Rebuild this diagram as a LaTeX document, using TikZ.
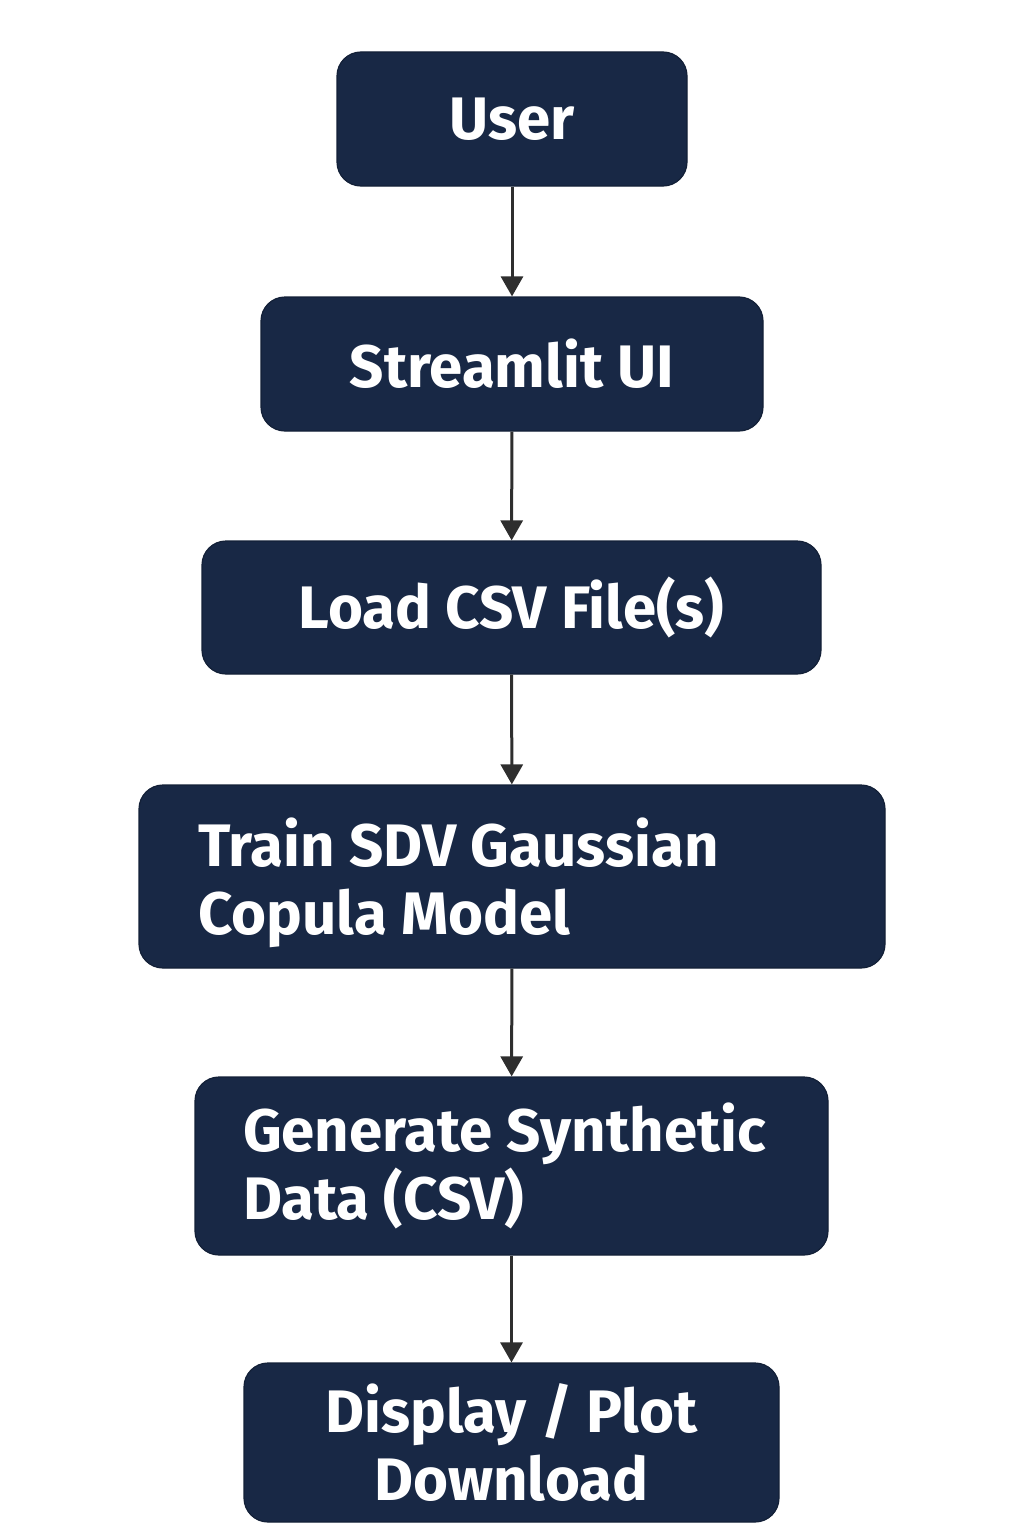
\documentclass[tikz,border=0pt]{standalone}
\usepackage{fontspec}
\setmainfont{Fira Sans}
\usetikzlibrary{arrows.meta}
\hyphenpenalty=10000
\definecolor{boxfill}{HTML}{182845}
\definecolor{arrowcol}{HTML}{2E2E2E}
\tikzset{
  x=0.5pt, y=-0.5pt,
  flowbox/.style={draw=boxfill!80!black, line width=0.6pt, fill=boxfill, rounded corners=12pt,
    text=white, font=\fontsize{30}{34}\selectfont\bfseries, inner sep=0pt},
  flowarrow/.style={draw=arrowcol, line width=1.5pt, -{Triangle[length=10pt,width=11pt]}},
}
\begin{document}
\begin{tikzpicture}
\useasboundingbox (0,0) rectangle (1024,1536);
\node[flowbox, minimum width=175pt, minimum height=67pt] (user) at (512,119) {User};
\node[flowbox, minimum width=251pt, minimum height=67pt] (ui) at (512,364) {Streamlit~UI};
\node[flowbox, minimum width=309.5pt, minimum height=66.5pt] (load) at (511.5,607.5) {Load~CSV~File(s)};
\node[flowbox, minimum width=373pt, minimum height=91.5pt, text width=314pt, inner xsep=29.5pt, align=flush left, text depth=34pt] (train) at (512,876.5) {Train~SDV~Gaussian\\Copula~Model};
\node[flowbox, minimum width=316.5pt, minimum height=89pt, text width=268.5pt, inner xsep=24pt, align=flush left] (gen) at (511.5,1166) {Generate~Synthetic\\Data~(CSV)};
\node[flowbox, minimum width=267.5pt, minimum height=79.5pt, align=center] (disp) at (511.5,1442.5) {Display~/~Plot\\Download};
\draw[flowarrow] (user) -- (ui);
\draw[flowarrow] (ui) -- (load);
\draw[flowarrow] (load) -- (train);
\draw[flowarrow] (train) -- (gen);
\draw[flowarrow] (gen) -- (disp);
\end{tikzpicture}
\end{document}
